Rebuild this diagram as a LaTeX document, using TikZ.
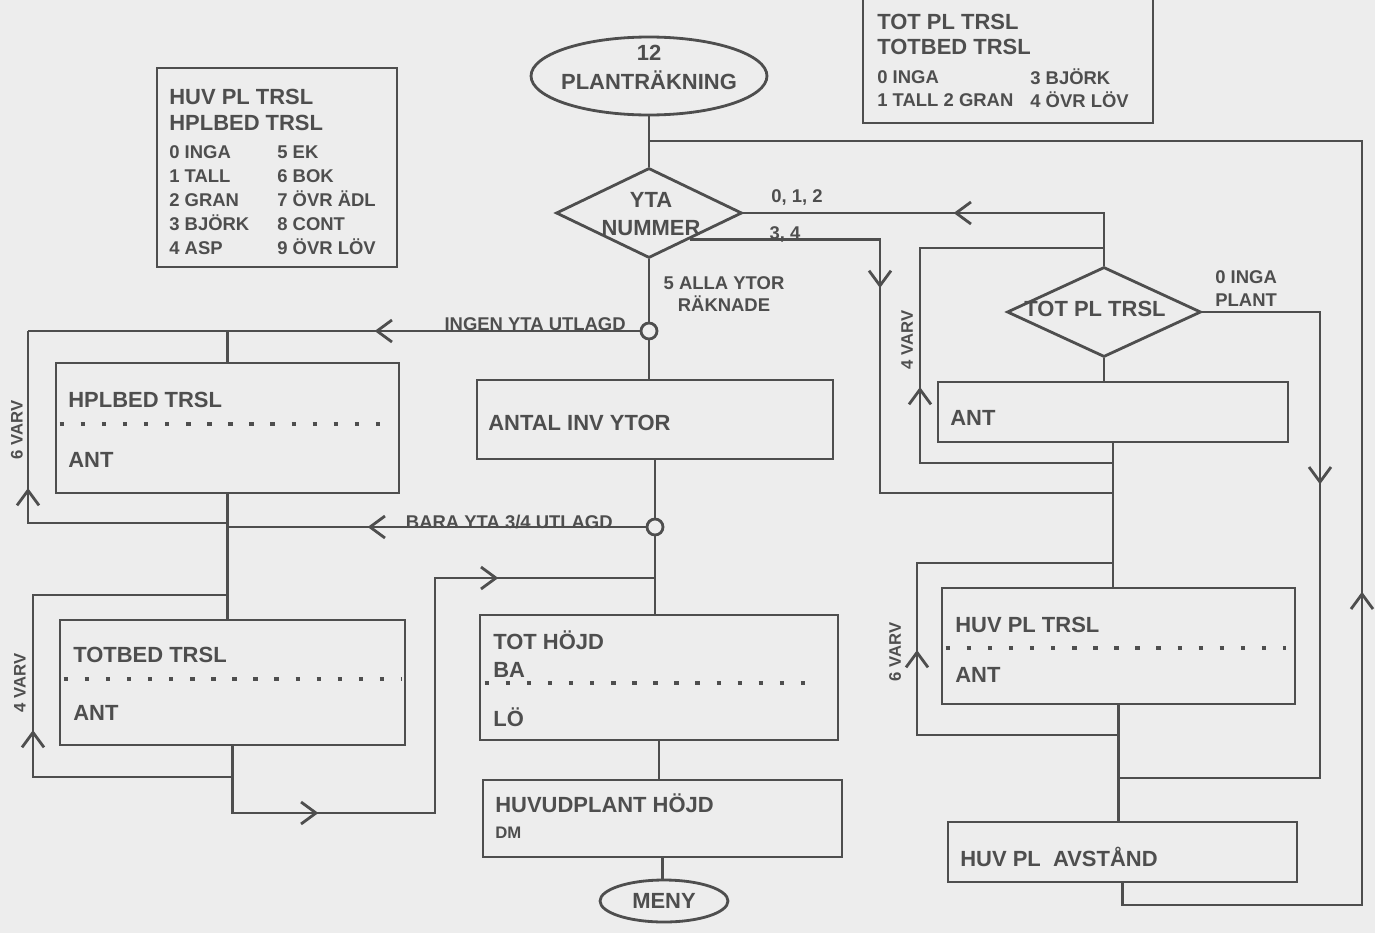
\documentclass[tikz,border=0pt]{standalone}
\usepackage{fontspec}
\setmainfont{Liberation Sans}
\usetikzlibrary{arrows.meta,positioning,shapes.geometric,calc,decorations.markings}
\definecolor{paper}{RGB}{237,237,237}
\definecolor{ink}{RGB}{78,78,78}

\begin{document}
\begin{tikzpicture}[x=0.02cm, y=-0.02cm,
    ln/.style={draw=ink, line width=1.6pt},
    box/.style={rectangle, draw=ink, line width=1.6pt, inner sep=0pt},
    term/.style={ellipse, draw=ink, line width=1.6pt, inner sep=0pt},
    choice/.style={diamond, draw=ink, line width=1.6pt, inner sep=0pt},
    junc/.style={circle, draw=ink, fill=paper, line width=1.6pt, minimum size=0.32cm, inner sep=0pt},
    txt/.style={text=ink, inner sep=0pt, font=\bfseries\fontsize{12.5}{15}\selectfont},
    lbl/.style={text=ink, inner sep=0pt, font=\bfseries\fontsize{10.5}{13}\selectfont},
    leg/.style={text=ink, inner sep=0pt, align=left, font=\bfseries\fontsize{10.5}{13.6}\selectfont},
    varv/.style={text=ink, inner sep=0pt, rotate=90, font=\bfseries\fontsize{9.5}{11}\selectfont},
    dotsep/.style={draw=ink, line width=2pt, dash pattern=on 2.5pt off 9.5pt},
    arrowat/.style={postaction={decorate, decoration={markings, mark=at position #1 with {\arrow{Straight Barb[length=8.5pt, width=12.5pt]}}}}}]
    \fill[paper] (0,0) rectangle (1375,933);
    \useasboundingbox (0,0) rectangle (1375,933);

    \node[term, minimum width=4.72cm, minimum height=1.56cm] (start) at (649,76) {};
    \node[txt, align=center, font=\bfseries\fontsize{12.5}{16.4}\selectfont] (starttxt) at (649,67.5) {12\\PLANTRÄKNING};
    \node[choice, minimum width=3.72cm, minimum height=1.8cm] (ynum) at (649,213) {};
    \node[txt, align=center, font=\bfseries\fontsize{12.5}{15.9}\selectfont] (ynumtxt) at (651,214) {YTA\\NUMMER};
    \node[junc] (j1) at (649,331) {};
    \node[box, minimum width=7.12cm, minimum height=1.58cm] (antal) at (655,419.5) {};
    \node[junc] (j2) at (655,527) {};
    \node[box, minimum width=7.16cm, minimum height=2.5cm] (tothojd) at (659,677.5) {};
    \node[box, minimum width=7.18cm, minimum height=1.54cm] (huvhojd) at (662.5,818.5) {};
    \node[term, txt, draw=ink, minimum width=2.56cm, minimum height=0.84cm] (meny) at (664,901) {MENY};

    \node[box, minimum width=6.86cm, minimum height=2.6cm] (hplbed) at (227.5,428) {};
    \node[box, minimum width=6.9cm, minimum height=2.5cm] (totbed) at (232.5,682.5) {};

    \node[choice, minimum width=3.88cm, minimum height=1.8cm] (tpl) at (1104,312) {};
    \node[txt] (tpltxt) at (1095,309) {TOT PL TRSL};
    \node[box, minimum width=7cm, minimum height=1.2cm] (antr) at (1113,412) {};
    \node[box, minimum width=7.06cm, minimum height=2.32cm] (huvtrsl) at (1118.5,646) {};
    \node[box, minimum width=6.98cm, minimum height=1.2cm] (avst) at (1122.5,852) {};

    \node[box, minimum width=4.8cm, minimum height=3.98cm] (leg1) at (277,167.5) {};
    \node[txt, align=left, anchor=west, font=\bfseries\fontsize{12.5}{14.7}\selectfont] (leg1h) at (169,110) {HUV PL TRSL\\HPLBED TRSL};
    \node[leg, anchor=west] (leg1a) at (169,200) {0 INGA\\1 TALL\\2 GRAN\\3 BJÖRK\\4 ASP};
    \node[leg, anchor=west] (leg1b) at (277,200) {5 EK\\6 BOK\\7 ÖVR ÄDL\\8 CONT\\9 ÖVR LÖV};
    \node[box, minimum width=5.8cm, minimum height=2.52cm] (leg2) at (1008,60) {};
    \node[txt, align=left, anchor=west, font=\bfseries\fontsize{12.5}{14.2}\selectfont] (leg2h) at (877,34.5) {TOT PL TRSL\\TOTBED TRSL};
    \node[leg, anchor=west, font=\bfseries\fontsize{10.5}{13}\selectfont] (leg2a) at (877,88.5) {0 INGA\\1 TALL 2 GRAN};
    \node[leg, anchor=west, font=\bfseries\fontsize{10.5}{13}\selectfont] (leg2b) at (1030,88.5) {3 BJÖRK\\4 ÖVR LÖV};

    \node[txt, anchor=west] (hplbedt) at (68,400) {HPLBED TRSL};
    \node[txt, anchor=west] (hplbedant) at (68,460) {ANT};
    \node[txt, anchor=west] (totbedt) at (73,655) {TOTBED TRSL};
    \node[txt, anchor=west] (totbedant) at (73,713) {ANT};
    \node[txt, anchor=west] (antaltxt) at (488,423) {ANTAL INV YTOR};
    \node[txt, anchor=west] (hojdt) at (493,640) {TOT HÖJD};
    \node[txt, anchor=west] (hojdba) at (493,670) {BA};
    \node[txt, anchor=west] (hojdlo) at (493,717) {LÖ};
    \node[txt, anchor=west] (huvhojdt) at (495,803) {HUVUDPLANT HÖJD};
    \node[lbl, anchor=west, font=\bfseries\fontsize{9.5}{11}\selectfont] (huvhojddm) at (495,833) {DM};
    \node[txt, anchor=west] (antrtxt) at (950,418) {ANT};
    \node[txt, anchor=west] (huvtrslt) at (955,625) {HUV PL TRSL};
    \node[txt, anchor=west] (huvtrslant) at (955,675) {ANT};
    \node[txt, anchor=west] (avsttxt) at (960,857) {HUV PL\ \ AVSTÅND};

    \node[lbl] (l012) at (797,197) {0, 1, 2};
    \node[lbl, anchor=base] (l34) at (785,239) {3, 4};
    \node[lbl, align=center, font=\bfseries\fontsize{10.5}{12.5}\selectfont] (l5) at (724,294) {5 ALLA YTOR\\RÄKNADE};
    \node[lbl, align=left, anchor=west] (l0) at (1215,288.5) {0 INGA\\PLANT};
    \node[lbl, anchor=base east] (lingen) at (626,330) {INGEN YTA UTLAGD};
    \node[lbl, anchor=base east] (lbara) at (613,528) {BARA YTA 3/4 UTLAGD};
    \node[varv] (v6l) at (17,430) {6 VARV};
    \node[varv] (v4l) at (20,683) {4 VARV};
    \node[varv] (v4r) at (907,340) {4 VARV};
    \node[varv] (v6r) at (895,652) {6 VARV};

    \coordinate (rb) at (1362,905);
    \coordinate (rt) at (1362,141);
    \coordinate (y34) at ($(ynum.east)!0.57!(ynum.south)$);
    \coordinate (c34) at (880,239);
    \coordinate (c34b) at (880,493);
    \coordinate (l4rt) at (920,248);
    \coordinate (l4rb) at (920,463);
    \coordinate (c0r) at (1320,312);
    \coordinate (c0b) at (1320,778);
    \coordinate (l6rt) at (917,563);
    \coordinate (l6rb) at (917,735);
    \coordinate (l6lt) at (28,331);
    \coordinate (l6lb) at (28,523);
    \coordinate (l4lt) at (33,595);
    \coordinate (l4lb) at (33,777);
    \coordinate (bpb) at (435,813);
    \coordinate (bpt) at (435,578);

    \draw[ln] (start.south) -- (ynum.north);
    \draw[ln] (ynum.south) -- (j1.north);
    \draw[ln] (j1.south) -- (j1.south |- antal.north);
    \draw[ln] (antal.south) -- (antal.south |- j2.north);
    \draw[ln] (j2.south) -- (j2.south |- tothojd.north);
    \draw[ln] (tothojd.south) -- (tothojd.south |- huvhojd.north);
    \draw[ln] (huvhojd.south) -- (huvhojd.south |- meny.north);
    \draw[ln, arrowat=11.49cm] (avst.south) -- (avst.south |- rb) -- (rb) -- (rt) -- (ynum.north |- rt);
    \draw[ln, arrowat=4.06cm] (tpl.north) -- (tpl.north |- ynum.east) -- (ynum.east);
    \draw[ln, arrowat=4.78cm] (y34) -- (y34 -| c34) -- (c34b) -- (antr.south |- c34b);
    \draw[ln, arrowat=5.38cm] (antr.south |- l4rb) -- (l4rb) -- (l4rt) -- (tpl.north |- l4rt);
    \draw[ln] (tpl.south) -- (tpl.south |- antr.north);
    \draw[ln] (antr.south) -- (antr.south |- huvtrsl.north);
    \draw[ln, arrowat=5.8cm] (tpl.east) -- (c0r) -- (c0b) -- (huvtrsl.south |- c0b);
    \draw[ln, arrowat=5.73cm] (huvtrsl.south |- l6rb) -- (l6rb) -- (l6rt) -- (antr.south |- l6rt);
    \draw[ln] (huvtrsl.south) -- (huvtrsl.south |- avst.north);
    \draw[ln, arrowat=5.3cm] (j1.west) -- (l6lt);
    \draw[ln] (hplbed.north |- l6lt) -- (hplbed.north);
    \draw[ln, arrowat=4.69cm] (hplbed.south |- l6lb) -- (l6lb) -- (l6lt);
    \draw[ln] (hplbed.south) -- (hplbed.south |- totbed.north);
    \draw[ln, arrowat=5.56cm] (j2.west) -- (hplbed.south |- j2.west);
    \draw[ln, arrowat=4.93cm] (totbed.south |- l4lb) -- (l4lb) -- (l4lt) -- (hplbed.south |- l4lt);
    \draw[ln, arrowat=3.05cm, arrowat=11.35cm] (totbed.south) -- (totbed.south |- bpb) -- (bpb) -- (bpt) -- (j2.south |- bpt);

    \draw[dotsep] ($(hplbed.west)+(5,-4)$) -- ($(hplbed.east)+(-5,-4)$);
    \draw[dotsep] ($(totbed.west)+(5,-3.5)$) -- ($(totbed.east)+(-5,-3.5)$);
    \draw[dotsep] ($(tothojd.west)+(6,5.5)$) -- ($(tothojd.east)+(-18,5.5)$);
    \draw[dotsep] ($(huvtrsl.west)+(5,2)$) -- ($(huvtrsl.east)+(-10,2)$);
\end{tikzpicture}
\end{document}
